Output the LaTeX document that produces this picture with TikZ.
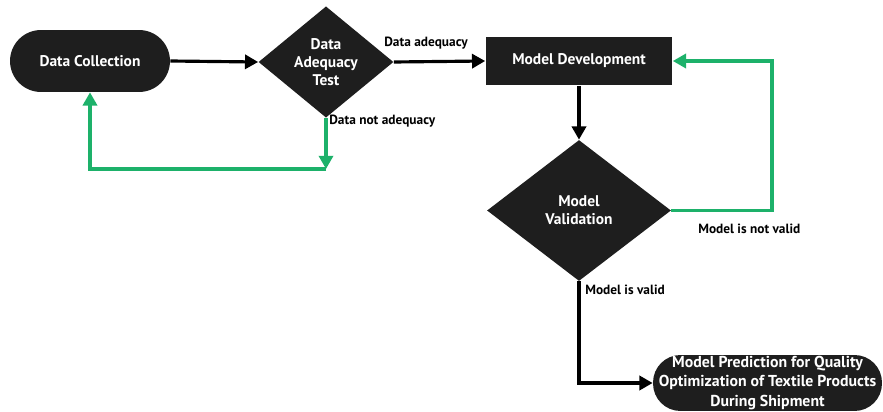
\documentclass[tikz,border=0pt]{standalone}
\usepackage{fontspec}
\setmainfont{PT Sans}
\usetikzlibrary{arrows.meta,positioning,shapes.geometric}
\definecolor{boxdark}{RGB}{30,30,30}
\definecolor{loopgreen}{RGB}{29,177,106}

\tikzset{
  stage/.style={fill=boxdark, text=white, align=center, inner sep=0pt,
    font=\bfseries\fontsize{8.8}{10.4}\selectfont},
  decision/.style={stage, diamond},
  flow/.style={-{Triangle[length=7.5pt,width=8pt]}, line width=1.8pt},
  back/.style={flow, loopgreen},
  tag/.style={font=\bfseries\fontsize{7.6}{9}\selectfont, inner sep=0pt},
}

\begin{document}
\begin{tikzpicture}[x=0.02cm,y=-0.02cm]
  \useasboundingbox (0,0) rectangle (883,412);
  % stages
  \node[stage, rounded corners=0.62cm, minimum width=3.2cm, minimum height=1.24cm]
    (collect) at (90,61) {Data Collection};
  \node[decision, minimum width=2.7cm, minimum height=2cm]
    (adequacy) at (326,62) {Data\\Adequacy\\Test};
  \node[stage, minimum width=3.74cm, minimum height=0.98cm]
    (develop) at (579,61) {Model Development};
  \node[decision, minimum width=3.68cm, minimum height=2.82cm]
    (validate) at (579,210.5) {Model\\Validation};
  \node[stage, rounded corners=0.55cm, minimum width=4.58cm, minimum height=1.12cm,
    font=\bfseries\fontsize{9}{11.2}\selectfont]
    (predict) at (767.5,383) {Model Prediction for Quality\\Optimization of Textile Products\\During Shipment};
  % main flow
  \draw[flow] (collect.east) -- (adequacy.west);
  \draw[flow] (adequacy.east) -- (develop.west);
  \node[tag, anchor=west] (okdata) at (384,43) {Data adequacy};
  \draw[flow] (develop.south) -- (validate.north);
  \draw[flow] (validate.south) |- (predict.west);
  \node[tag, anchor=west] (okmodel) at (585,290) {Model is valid};
  % green loops back
  \coordinate (dropA) at (326,169);
  \draw[back] (adequacy.south) -- (dropA);
  \draw[back] (dropA) -- (collect.south |- dropA) -- (collect.south);
  \node[tag, anchor=west] (baddata) at (329,121) {Data not adequacy};
  \coordinate (riseB) at (772,61);
  \draw[back] (validate.east) -| (riseB) -- (develop.east);
  \node[tag, anchor=west] (badmodel) at (698,229) {Model is not valid};
\end{tikzpicture}
\end{document}
